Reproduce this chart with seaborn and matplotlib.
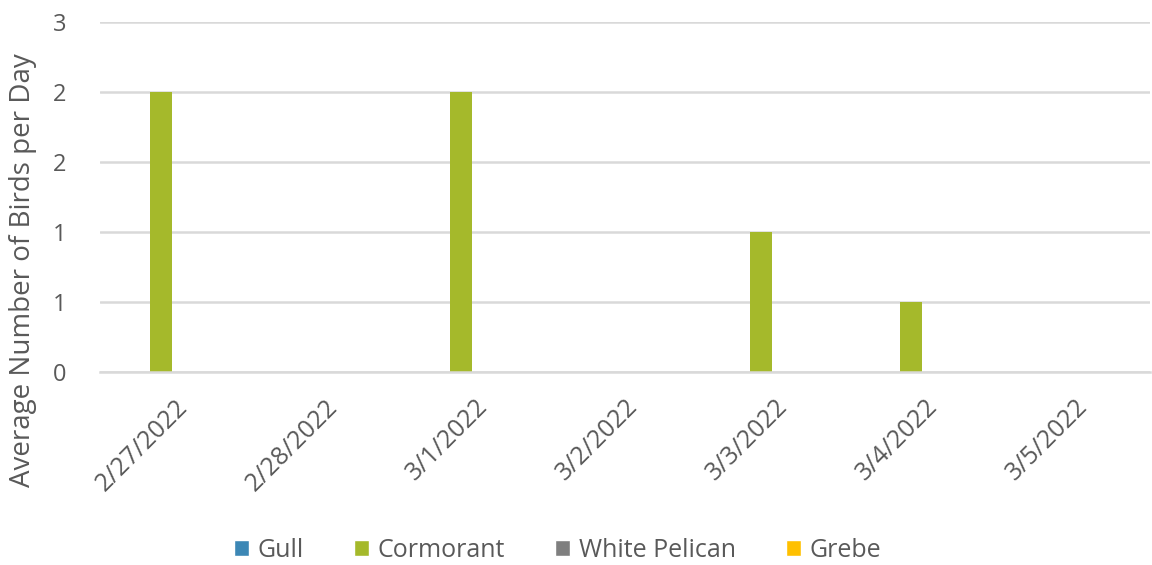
import pandas as pd
import seaborn as sns
import matplotlib.pyplot as plt
from matplotlib.patches import Patch

dates = ['2/27/2022', '2/28/2022', '3/1/2022', '3/2/2022', '3/3/2022', '3/4/2022', '3/5/2022']
species = ['Gull', 'Cormorant', 'White Pelican', 'Grebe']
gull = [0, 0, 0, 0, 0, 0, 0]
cormorant = [2, 0, 2, 0, 1, 0.5, 0]
white_pelican = [0, 0, 0, 0, 0, 0, 0]
grebe = [0, 0, 0, 0, 0, 0, 0]
y_ticks = [0, 0.5, 1, 1.5, 2, 2.5]
y_tick_labels = ['0', '1', '1', '2', '2', '3']

colors = ['#3C87B5', '#A5B92B', '#7F7F7F', '#FFC000']
text_color = '#595959'
grid_color = '#D9D9D9'

df = pd.DataFrame({
    'date': dates * 4,
    'species': [s for s in species for _ in dates],
    'value': gull + cormorant + white_pelican + grebe,
})

sns.set_style('white')
plt.rcParams['font.family'] = ['Open Sans', 'DejaVu Sans']

fig = plt.figure(figsize=(11.52, 5.65), dpi=100)
ax = fig.add_axes([0.0868, 0.3416, 0.9115, 0.6195])

sns.barplot(data=df, x='date', y='value', hue='species', order=dates, hue_order=species,
            palette=colors, saturation=1, width=0.75, gap=0.2, linewidth=0, ax=ax, legend=False)

ax.set_ylim(0, 2.5)
ax.set_xlim(-0.5, len(dates) - 0.5)
ax.set_yticks(y_ticks)
ax.set_yticklabels(y_tick_labels)
ax.yaxis.grid(True, color=grid_color, linewidth=1.8)
ax.set_axisbelow(True)
ax.set_xlabel('')
# Excel centres the axis title on the whole left side, not just the plot area
ax.set_ylabel('Average Number of Birds per Day', fontsize=20, color=text_color)
ax.yaxis.set_label_coords(-0.06, 0.29)

for s in ['top', 'right', 'left']:
    ax.spines[s].set_visible(False)
ax.spines['bottom'].set_color(grid_color)
ax.spines['bottom'].set_linewidth(1.8)

ax.tick_params(axis='y', length=0, labelsize=17, labelcolor=text_color, pad=24)
ax.tick_params(axis='x', which='major', length=0, labelsize=18, labelcolor=text_color, pad=16)
ax.set_xticks([i - 0.5 for i in range(len(dates) + 1)], minor=True)
ax.tick_params(axis='x', which='minor', length=7, width=1.8, color=grid_color)
plt.setp(ax.get_xticklabels(), rotation=45, ha='right', rotation_mode='anchor')

handles = [Patch(facecolor=c, label=s) for c, s in zip(colors, species)]
fig.legend(handles=handles, loc='center', bbox_to_anchor=(0.484, 0.026), ncol=4, frameon=False,
           fontsize=18, labelcolor=text_color, handlelength=0.6, handleheight=0.6,
           handletextpad=0.35, columnspacing=2.0)

fig.savefig('out.png', dpi=100)
